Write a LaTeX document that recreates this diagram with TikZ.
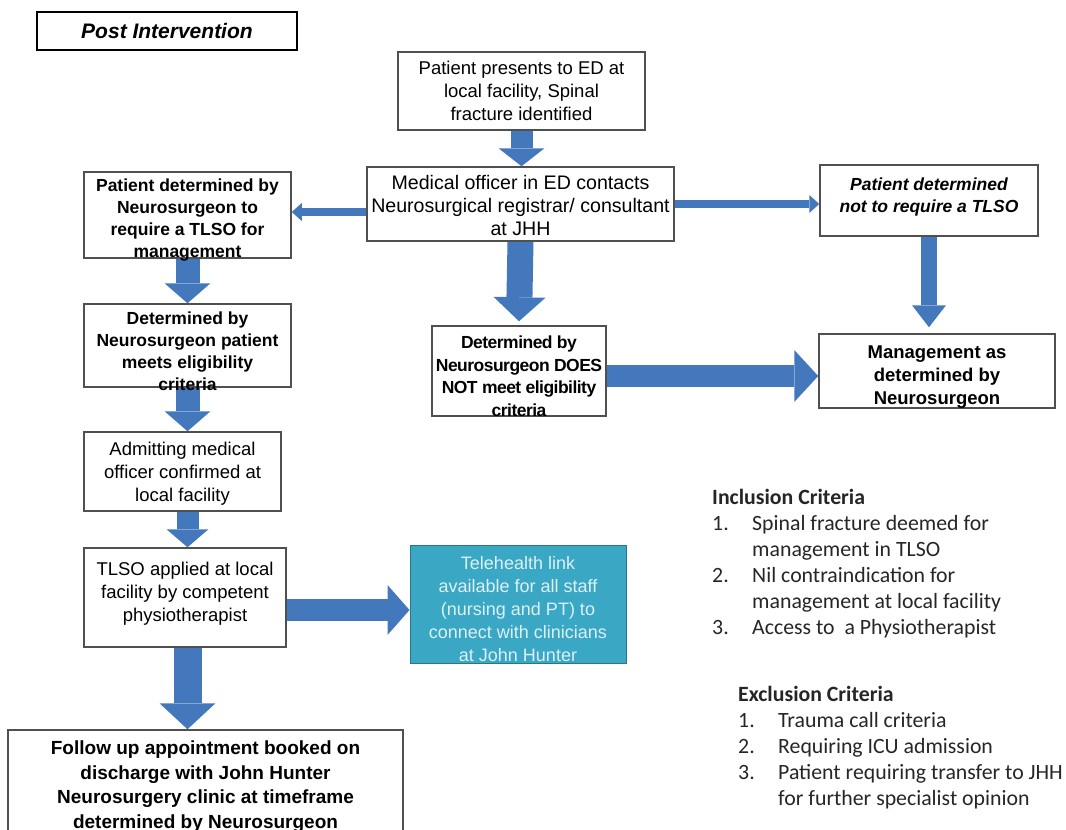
\documentclass[tikz,border=0pt]{standalone}
\usepackage{fontspec}
\setmainfont{Liberation Sans}
\newfontfamily\carlito{Carlito}
\usetikzlibrary{arrows.meta,calc}
\pgfdeclarelayer{background}
\pgfsetlayers{background,main}
\definecolor{arrowblue}{RGB}{68,120,188}
\definecolor{boxline}{RGB}{80,80,80}
\definecolor{teal}{RGB}{58,168,196}
\definecolor{telefg}{RGB}{220,240,246}
% box text: width, vertical shift (positive = down), lines
\newcommand{\bt}[3]{\raisebox{\dimexpr -#2 - 0.25em\relax}[0pt][0pt]{\parbox[c]{#1}{\centering #3}}}
\tikzset{
  box/.style={draw=boxline, line width=1.5pt, fill=white, inner sep=0pt, align=center,
    font=\fontsize{18.5}{23}\selectfont},
  boldbox/.style={box, font=\bfseries\fontsize{17.5}{22}\selectfont},
  blk/.style n args={3}{draw=arrowblue, line width=#1,
    -{Triangle[width=#2, length=#3, line width=0pt]}},
  crit/.style={anchor=north west, align=left, inner sep=0pt,
    font=\carlito\fontsize{21.8}{26}\selectfont, text=black!85},
}
\begin{document}
\begin{tikzpicture}[x=1pt,y=-1pt]
\useasboundingbox (0,0) rectangle (1066,830);
\begin{pgfonlayer}{background}
\fill[white] (0,0) rectangle (1066,830);
\end{pgfonlayer}
\begin{scope}
\clip (0,0) rectangle (1066,830);
% title
\node[draw=black, line width=2.5pt, minimum width=260pt, minimum height=38pt, inner sep=0pt,
  font=\bfseries\itshape\fontsize{21}{25}\selectfont] (title) at (167,31) {Post Intervention};
% boxes
\node[box, minimum width=247pt, minimum height=78pt] (p1) at (521.5,91)
  {\bt{235pt}{0pt}{Patient presents to ED at\\ local facility, Spinal\\ fracture identified}};
\node[box, minimum width=307pt, minimum height=74pt, font=\fontsize{19.6}{23}\selectfont] (med) at (520.5,204)
  {\bt{305pt}{2pt}{Medical officer in ED contacts\\ Neurosurgical registrar/ consultant\\ at JHH}};
\node[boldbox, minimum width=207pt, minimum height=86pt] (left1) at (187.5,215)
  {\bt{200pt}{5pt}{Patient determined by\\ Neurosurgeon to\\ require a TLSO for\\ management}};
\node[boldbox, minimum width=218pt, minimum height=71pt,
  font=\bfseries\itshape\fontsize{17.5}{22}\selectfont] (right1) at (929,200.5)
  {\bt{210pt}{-4pt}{Patient determined\\ not to require a TLSO}};
\node[boldbox, minimum width=174pt, minimum height=90pt,
  font=\bfseries\fontsize{17.5}{22.5}\selectfont\addfontfeature{LetterSpace=-3}] (notmeet) at (519,371)
  {\bt{172pt}{5pt}{Determined by\\ Neurosurgeon DOES\\ NOT meet eligibility\\ criteria}};
\node[boldbox, minimum width=236pt, minimum height=74pt,
  font=\bfseries\fontsize{18.5}{23}\selectfont] (mgmt) at (937,371)
  {\bt{228pt}{6pt}{Management as\\ determined by\\ Neurosurgeon}};
\node[boldbox, minimum width=207pt, minimum height=83pt] (det) at (187.5,345.5)
  {\bt{200pt}{6pt}{Determined by\\ Neurosurgeon patient\\ meets eligibility\\ criteria}};
\node[box, minimum width=197pt, minimum height=79pt] (admit) at (182.5,471.5)
  {\bt{190pt}{2pt}{Admitting medical\\ officer confirmed at\\ local facility}};
\node[box, minimum width=202pt, minimum height=99pt] (tlso) at (185,597.5)
  {\bt{195pt}{-4pt}{TLSO applied at local\\ facility by competent\\ physiotherapist}};
\node[box, draw=teal!70!black, line width=1pt, fill=teal, text=telefg, minimum width=216pt,
  minimum height=118pt, font=\fontsize{18}{23}\selectfont] (tele) at (518,604)
  {\bt{210pt}{5pt}{Telehealth link\\ available for all staff\\ (nursing and PT) to\\ connect with clinicians\\ at John Hunter}};
\node[box, minimum width=395pt, minimum height=112pt,
  font=\bfseries\fontsize{19}{24.5}\selectfont] (follow) at (205.5,786)
  {\bt{385pt}{0pt}{Follow up appointment booked on\\ discharge with John Hunter\\ Neurosurgery clinic at timeframe\\ determined by Neurosurgeon}};
% criteria
\node[crit] (inc) at (712,488.5)
  {\textbf{Inclusion Criteria}\\
   \makebox[40pt][l]{1.}Spinal fracture deemed for\\
   \hspace*{40pt}management in TLSO\\
   \makebox[40pt][l]{2.}Nil contraindication for\\
   \hspace*{40pt}management at local facility\\
   \makebox[40pt][l]{3.}Access to\ \ a Physiotherapist};
\node[crit] (exc) at (738,685.5)
  {\textbf{Exclusion Criteria}\\
   \makebox[40pt][l]{1.}Trauma call criteria\\
   \makebox[40pt][l]{2.}Requiring ICU admission\\
   \makebox[40pt][l]{3.}Patient requiring transfer to JHH\\
   \hspace*{40pt}for further specialist opinion};
\end{scope}
% arrows (behind the box texts)
\begin{pgfonlayer}{background}
\draw[blk={22pt}{46pt}{18pt}] (p1.south) -- (p1.south |- med.north);
\draw[blk={8pt}{18pt}{10pt}] ($(med.west)+(0,8)$) -- ($(med.west -| left1.east)+(0,8)$);
\draw[blk={8pt}{18pt}{10pt}] (med.east) -- (med.east -| right1.west);
\draw[blk={16pt}{34pt}{22pt}] (right1.south) -- ($(right1.south |- mgmt.north)+(0,-6)$);
\draw[blk={26pt}{52pt}{24pt}] (med.south) -- ($(notmeet.north)+(0,-4)$);
\draw[blk={22pt}{52pt}{24pt}] ($(notmeet.east)+(0,5)$) -- ($(notmeet.east -| mgmt.west)+(0,5)$);
\draw[blk={24pt}{46pt}{20pt}] (left1.south) -- (det.north);
\draw[blk={24pt}{46pt}{20pt}] (det.south) -- (det.south |- admit.north);
\draw[blk={22pt}{42pt}{18pt}] (det.south |- admit.south) -- (det.south |- tlso.north);
\draw[blk={22pt}{50pt}{22pt}] ($(tlso.east |- tele.west)+(0,6)$) -- ($(tele.west)+(0,6)$);
\draw[blk={28pt}{56pt}{26pt}] (det.south |- tlso.south) -- (det.south |- follow.north);
\end{pgfonlayer}
\end{tikzpicture}
\end{document}
